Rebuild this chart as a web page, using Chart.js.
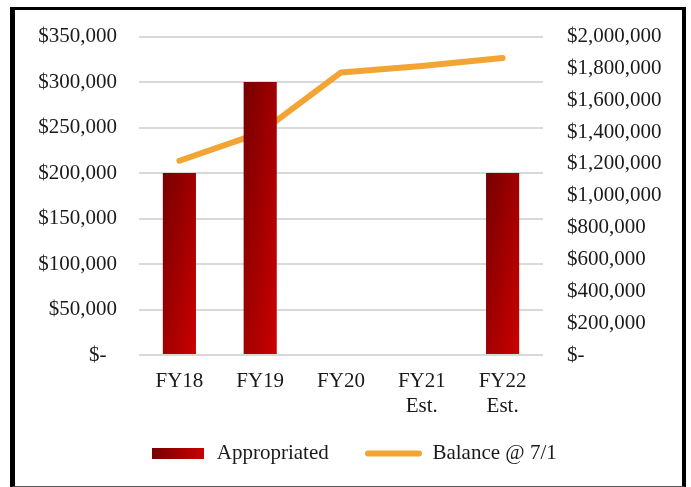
<!DOCTYPE html>
<html>
<head>
<meta charset="utf-8">
<script src="https://cdn.jsdelivr.net/npm/chart.js@4.4.1/dist/chart.umd.min.js"></script>
<style>
  html, body { margin: 0; padding: 0; background: #fff; }
  #wrap { position: relative; width: 691px; height: 487px; overflow: hidden; }
  #chart { position: absolute; left: 0; top: 0; }
  #frame {
    position: absolute; left: 10px; top: 7px; width: 667px; height: 476px;
    border-left: 5px solid #000; border-top: 3px solid #000;
    border-right: 4px solid #000; border-bottom: 1px solid #555;
    pointer-events: none;
  }
</style>
</head>
<body>
<div id="wrap">
  <canvas id="chart" width="691" height="487"></canvas>
  <div id="frame"></div>
</div>
<script>
// data
const categories = [['FY18'], ['FY19'], ['FY20'], ['FY21', 'Est.'], ['FY22', 'Est.']];
const appropriated = [200000, 300000, 0, 0, 200000];
const balance = [1220000, 1395000, 1775000, 1815000, 1865000];
const leftTicks = [0, 50000, 100000, 150000, 200000, 250000, 300000, 350000];
const rightTicks = [0, 200000, 400000, 600000, 800000, 1000000, 1200000, 1400000, 1600000, 1800000, 2000000];

const DARK_RED = '#760000';
const BRIGHT_RED = '#cc0000';
const ORANGE = '#f2a533';
const BAR_PCT = 0.41;
const FONT = { family: '"Liberation Serif", "Times New Roman", serif', size: 21 };

function money(v) {
    if (v === 0) return '$-  ';
    return '$' + v.toLocaleString('en-US');
}

// diagonal gradient, like the excel fill scaled with the shape
function barFill(ctx) {
    if (ctx.type !== 'data') return BRIGHT_RED;
    const chart = ctx.chart;
    const xs = chart.scales.x, ys = chart.scales.y;
    if (!xs || !ys || !chart.chartArea) return BRIGHT_RED;
    const v = ctx.raw;
    const w = (xs.width / categories.length) * BAR_PCT;
    const x0 = xs.getPixelForValue(ctx.dataIndex) - w / 2;
    const top = ys.getPixelForValue(v);
    const h = Math.max(ys.getPixelForValue(0) - top, 1);
    const k = 2 / (1 / (w * w) + 1 / (h * h));
    const g = chart.ctx.createLinearGradient(x0, top, x0 + k / w, top + k / h);
    g.addColorStop(0, DARK_RED);
    g.addColorStop(1, BRIGHT_RED);
    return g;
}

// legend swatches
const boxImg = document.createElement('canvas');
boxImg.width = 52; boxImg.height = 11;
(function () {
    const c = boxImg.getContext('2d');
    const g = c.createLinearGradient(0, 0, 52, 11);
    g.addColorStop(0, DARK_RED);
    g.addColorStop(1, BRIGHT_RED);
    c.fillStyle = g;
    c.fillRect(0, 0, 52, 11);
})();
const lineImg = document.createElement('canvas');
lineImg.width = 57; lineImg.height = 7;
(function () {
    const c = lineImg.getContext('2d');
    c.strokeStyle = ORANGE;
    c.lineWidth = 6;
    c.lineCap = 'round';
    c.beginPath();
    c.moveTo(3, 3.5);
    c.lineTo(54, 3.5);
    c.stroke();
})();

Chart.defaults.font = FONT;
Chart.defaults.color = '#1a1a1a';

new Chart(document.getElementById('chart'), {
    type: 'bar',
    data: {
        labels: categories,
        datasets: [{
            label: 'Appropriated',
            data: appropriated,
            backgroundColor: barFill,
            borderWidth: 0,
            barPercentage: BAR_PCT,
            categoryPercentage: 1,
            yAxisID: 'y',
            order: 0
        }, {
            type: 'line',
            label: 'Balance @ 7/1',
            data: balance,
            borderColor: ORANGE,
            backgroundColor: ORANGE,
            borderWidth: 6,
            borderCapStyle: 'round',
            borderJoinStyle: 'round',
            pointRadius: 0,
            tension: 0,
            yAxisID: 'y1',
            order: 1
        }]
    },
    options: {
        responsive: false,
        animation: false,
        devicePixelRatio: 1,
        layout: { padding: { left: 15, right: 0, top: 27, bottom: 13 } },
        plugins: {
            tooltip: { enabled: false },
            legend: {
                position: 'bottom',
                labels: {
                    usePointStyle: true,
                    pointStyleWidth: 57,
                    padding: 10,
                    font: FONT,
                    generateLabels: function (chart) {
                        const items = Chart.defaults.plugins.legend.labels.generateLabels(chart);
                        items[0].pointStyle = boxImg;
                        items[0].text = items[0].text + '     ';
                        items[1].pointStyle = lineImg;
                        return items;
                    }
                }
            }
        },
        scales: {
            x: {
                grid: { display: false },
                border: { display: false },
                ticks: { padding: 6, maxRotation: 0, font: FONT },
                afterFit: s => { s.height = 78; }
            },
            y: {
                position: 'left',
                min: 0,
                max: 350000,
                afterBuildTicks: s => { s.ticks = leftTicks.map(v => ({ value: v })); },
                afterFit: s => { s.width = 124; },
                grid: { color: '#d9d9d9', lineWidth: 2, drawTicks: false },
                border: { display: false },
                ticks: { padding: 22, callback: v => money(v), font: FONT }
            },
            y1: {
                position: 'right',
                min: 0,
                max: 2000000,
                afterBuildTicks: s => { s.ticks = rightTicks.map(v => ({ value: v })); },
                afterFit: s => { s.width = 148; },
                grid: { display: false, drawTicks: false },
                border: { display: false },
                ticks: { padding: 24, callback: v => money(v), font: FONT }
            }
        }
    }
});
</script>
</body>
</html>
